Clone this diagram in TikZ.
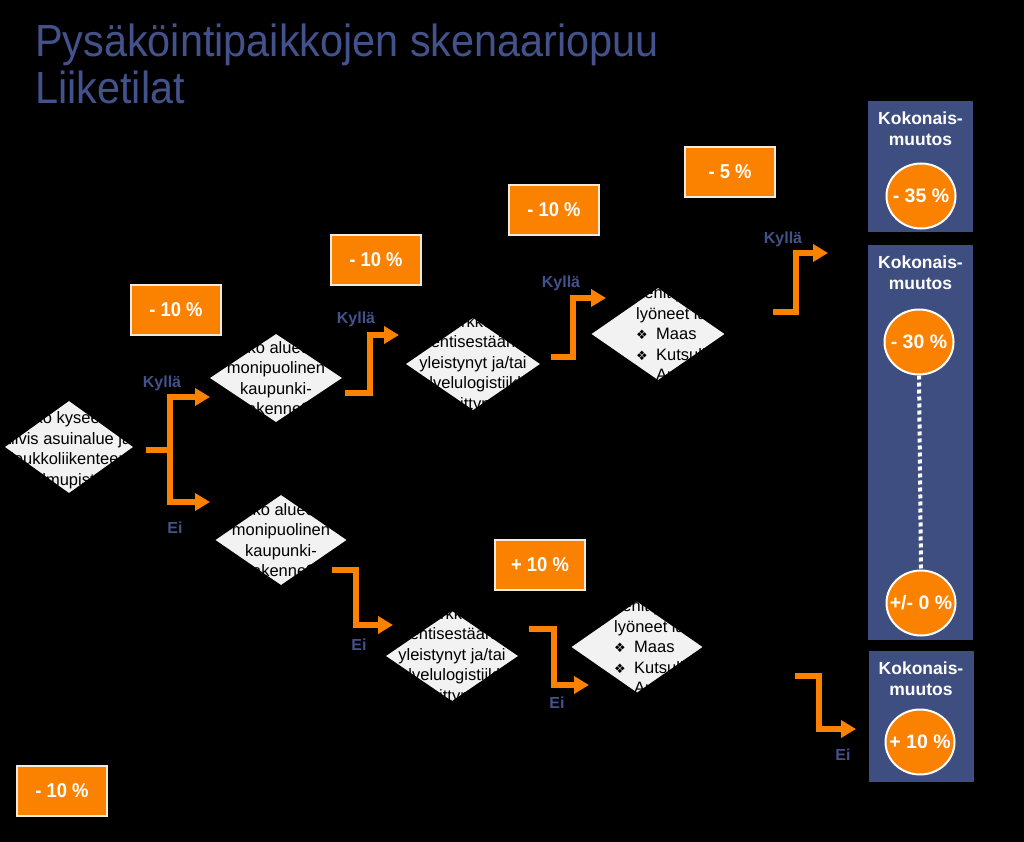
\documentclass[tikz,border=0pt]{standalone}
\usepackage{graphicx}
\usepackage{fontspec}
\setmainfont{Liberation Sans}
\newfontfamily\symfont{DejaVu Sans}
\usetikzlibrary{shapes.geometric,arrows.meta,calc}
\definecolor{orng}{RGB}{250,130,0}
\definecolor{oborder}{RGB}{245,235,220}
\definecolor{pblue}{RGB}{62,78,128}
\definecolor{tblue}{RGB}{68,82,140}
\definecolor{dgrey}{RGB}{242,242,242}
\newcommand{\dbul}{\makebox[20pt][l]{\symfont\fontsize{13}{20}\selectfont ❖}}
\begin{document}
\begin{tikzpicture}[x=1pt,y=-1pt,
  obox/.style={rectangle, fill=orng, draw=oborder, line width=1.5pt, minimum width=90pt, minimum height=50pt, inner sep=0pt, text=white, font=\bfseries\fontsize{20}{24}\selectfont},
  dia/.style={diamond, fill=dgrey, draw=none, inner sep=0pt},
  dtext/.style={text=black, align=center, inner sep=0pt, font=\fontsize{16.5}{20.5}\selectfont},
  dltext/.style={text=black, align=left, inner sep=0pt, anchor=west, font=\fontsize{16.5}{20.5}\selectfont},
  oline/.style={draw=orng, line width=5.5pt},
  conn/.style={oline, -{Triangle[width=17pt,length=15pt]}},
  blbl/.style={text=tblue, font=\bfseries\fontsize{16}{19}\selectfont, inner sep=0pt},
  panel/.style={rectangle, fill=pblue, draw=none, minimum width=105pt, inner sep=0pt},
  ptext/.style={text=white, align=center, font=\bfseries\fontsize{17.5}{21}\selectfont, inner sep=0pt},
  circ/.style={ellipse, fill=orng, draw=white, line width=2pt, minimum width=69pt, minimum height=65pt, inner sep=0pt},
  ctext/.style={text=white, font=\bfseries\fontsize{19.5}{23}\selectfont, inner sep=0pt},
  ttl/.style={text=tblue, anchor=base west, inner sep=0pt, font=\fontsize{45}{50}\selectfont}
]
\fill[black] (0,0) rectangle (1024,842);
\useasboundingbox (0,0) rectangle (1024,842);

% title
\node[ttl] (title1) at (35,57) {\scalebox{0.92}[1]{Pysäköintipaikkojen skenaariopuu}};
\node[ttl] (title2) at (35,104) {\scalebox{0.92}[1]{Liiketilat}};

% orange percentage boxes
\node[obox] (b1) at (176,310) {\scalebox{0.92}[1]{- 10 \%}};
\node[obox] (b2) at (376,260) {\scalebox{0.92}[1]{- 10 \%}};
\node[obox] (b3) at (554,210) {\scalebox{0.92}[1]{- 10 \%}};
\node[obox] (b4) at (730,172) {\scalebox{0.92}[1]{- 5 \%}};
\node[obox] (b5) at (540,565) {\scalebox{0.92}[1]{+ 10 \%}};
\node[obox] (b6) at (62,791) {\scalebox{0.92}[1]{- 10 \%}};

% diamonds
\node[dia, minimum width=128pt, minimum height=92pt] (d1) at (69,447) {};
\node[dtext] (d1t) at ($(d1.center)+(0,3)$) {Onko kyseessä\\tiivis asuinalue ja\\joukkoliikenteen\\solmupiste?};

\node[dia, minimum width=132pt, minimum height=88pt] (d2) at (276,378) {};
\node[dtext] (d2t) at (d2.center) {Onko alueella\\monipuolinen\\kaupunki-\\rakenne?};

\node[dia, minimum width=131pt, minimum height=90pt] (d3) at (281,540) {};
\node[dtext] (d3t) at (d3.center) {Onko alueella\\monipuolinen\\kaupunki-\\rakenne?};

\node[dia, minimum width=134pt, minimum height=92pt] (d4) at (473,364) {};
\node[dtext] (d4t) at (d4.center) {Onko verkkokauppa\\entisestään\\yleistynyt ja/tai\\palvelulogistiikka\\kehittynyt?};

\node[dia, minimum width=132pt, minimum height=90pt] (d6) at (452,656) {};
\node[dtext] (d6t) at (d6.center) {Onko verkkokauppa\\entisestään\\yleistynyt ja/tai\\palvelulogistiikka\\kehittynyt?};

\node[dia, minimum width=133pt, minimum height=92pt] (d5) at (658,334) {};
\node[dltext] (d5t) at ($(d5.center)+(-22,0)$) {kehittyneet palvelut\\lyöneet läpi:\\\dbul Maas\\\dbul Kutsuliikenne\\\dbul Autonomiset autot};

\node[dia, minimum width=131pt, minimum height=91pt] (d7) at (637,647) {};
\node[dltext] (d7t) at ($(d7.center)+(-23,0)$) {kehittyneet palvelut\\lyöneet läpi:\\\dbul Maas\\\dbul Kutsuliikenne\\\dbul Autonomiset autot};

% connector coordinates
\coordinate (s1) at (146,450);
\coordinate (j1) at (170,450);
\coordinate (t1a) at (210,397);
\coordinate (t1b) at (210,502);
\coordinate (s2) at (345,393);
\coordinate (v2) at (370,335);
\coordinate (t2) at (399,335);
\coordinate (s3) at (551,357);
\coordinate (v3) at (573,298);
\coordinate (t3) at (606,298);
\coordinate (s4) at (773,312);
\coordinate (v4) at (796,253);
\coordinate (t4) at (828,253);
\coordinate (s5) at (332,570);
\coordinate (v5) at (356,625);
\coordinate (t5) at (393,625);
\coordinate (s6) at (529,629);
\coordinate (v6) at (554,685);
\coordinate (t6) at (589,685);
\coordinate (s7) at (795,676);
\coordinate (v7) at (819,729);
\coordinate (t7) at (856,729);

% connectors
\draw[oline] (s1) -- (j1);
\draw[conn] (j1) |- (t1a);
\draw[conn] (j1) |- (t1b);
\draw[conn] (s2) -| (v2) -- (t2);
\draw[conn] (s3) -| (v3) -- (t3);
\draw[conn] (s4) -| (v4) -- (t4);
\draw[conn] (s5) -| (v5) -- (t5);
\draw[conn] (s6) -| (v6) -- (t6);
\draw[conn] (s7) -| (v7) -- (t7);

% labels
\node[blbl] (k1) at (162,383) {Kyllä};
\node[blbl] (e1) at (175,528) {Ei};
\node[blbl] (k2) at (356,319) {Kyllä};
\node[blbl] (k3) at (561,283) {Kyllä};
\node[blbl] (k4) at (783,239) {Kyllä};
\node[blbl] (e2) at (359,645) {Ei};
\node[blbl] (e3) at (557,703) {Ei};
\node[blbl] (e4) at (843,755) {Ei};

% result panels
\node[panel, minimum height=131pt] (p1) at (920.5,166.5) {};
\node[ptext] (p1t) at ($(p1.north)+(0,28)$) {Kokonais-\\muutos};
\node[circ] (c1) at (921,196) {};
\node[ctext] (c1t) at (c1.center) {- 35 \%};

\node[panel, minimum height=395pt] (p2) at (920.5,442.5) {};
\node[ptext] (p2t) at ($(p2.north)+(0,28)$) {Kokonais-\\muutos};
\node[circ] (c2) at (919,342) {};
\node[ctext] (c2t) at (c2.center) {- 30 \%};
\node[circ] (c3) at (921,603) {};
\node[ctext] (c3t) at (c3.center) {+/- 0 \%};
\draw[white, line width=4pt, dash pattern=on 4pt off 3pt] (c2.south) -- (c3.north);

\node[panel, minimum height=131pt] (p3) at (921,716.5) {};
\node[ptext] (p3t) at ($(p3.north)+(0,28)$) {Kokonais-\\muutos};
\node[circ] (c4) at (920,742) {};
\node[ctext] (c4t) at (c4.center) {+ 10 \%};
\end{tikzpicture}
\end{document}
